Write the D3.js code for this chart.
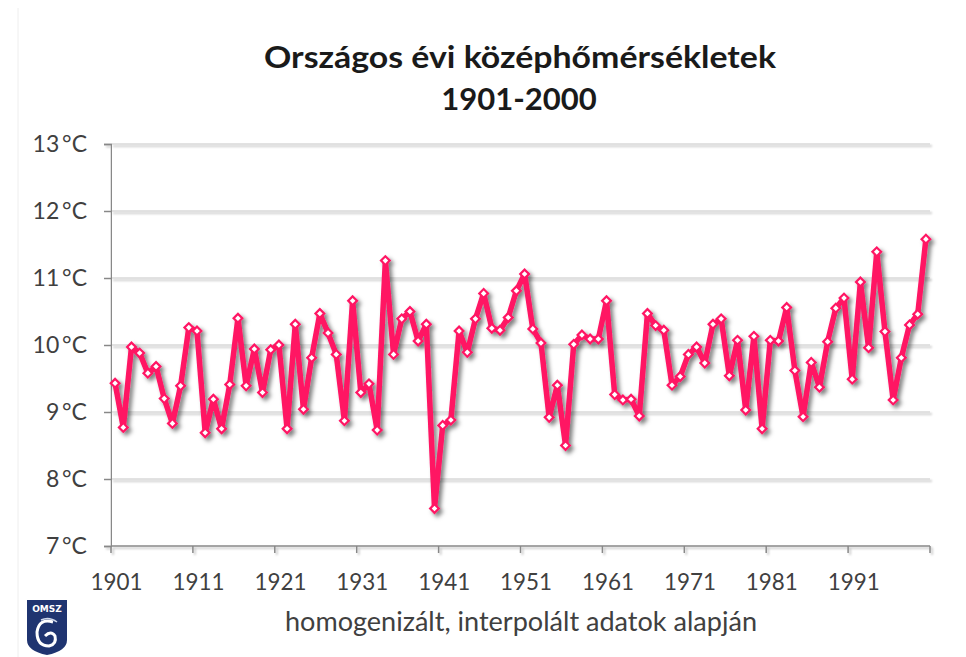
<!DOCTYPE html>
<html><head><meta charset="utf-8">
<script src="https://cdn.jsdelivr.net/npm/d3@7"></script>
<style>body{margin:0;background:#fff}svg{display:block}</style>
</head><body><svg id="c" width="966" height="657"></svg>
<script>
const years = d3.range(1901, 2001);
const temps = [9.43,8.77,9.97,9.88,9.58,9.68,9.20,8.83,9.39,10.26,
10.21,8.69,9.19,8.75,9.41,10.40,9.39,9.94,9.29,9.93,
10.00,8.75,10.31,9.04,9.81,10.47,10.18,9.86,8.87,10.66,
9.29,9.42,8.73,11.26,9.86,10.39,10.50,10.06,10.31,7.56,
8.80,8.88,10.21,9.89,10.39,10.77,10.25,10.22,10.41,10.81,
11.06,10.24,10.03,8.92,9.40,8.50,10.01,10.15,10.09,10.09,
10.66,9.26,9.18,9.19,8.94,10.47,10.29,10.22,9.40,9.53,
9.86,9.97,9.73,10.31,10.39,9.54,10.07,9.03,10.13,8.75,
10.07,10.06,10.56,9.62,8.93,9.74,9.37,10.05,10.55,10.70,
9.49,10.94,9.96,11.39,10.20,9.18,9.81,10.30,10.46,11.58];
const yTicks = [7,8,9,10,11,12,13];
const xTickLabels = [1901,1911,1921,1931,1941,1951,1961,1971,1981,1991];
const titleLines = ["Országos évi középhőmérsékletek","1901-2000"];
const subtitle = "homogenizált, interpolált adatok alapján";

const svg = d3.select("#c");
const defs = svg.append("defs");
const f = defs.append("filter").attr("id","sh").attr("x","-10%").attr("y","-10%").attr("width","130%").attr("height","130%");
f.append("feDropShadow").attr("dx",3).attr("dy",3).attr("stdDeviation",2.2).attr("flood-color","#000").attr("flood-opacity",0.5);
const f2 = defs.append("filter").attr("id","sh2").attr("x","-5%").attr("y","-50%").attr("width","110%").attr("height","300%");
f2.append("feDropShadow").attr("dx",2).attr("dy",2).attr("stdDeviation",1.2).attr("flood-color","#000").attr("flood-opacity",0.25);

const L=111, R=930, T=144, B=546;
const x = d3.scaleBand().domain(years).range([L,R]).paddingInner(0).paddingOuter(0);
const y = d3.scaleLinear().domain([7,13]).range([B,T]);
const font = "Lato, 'Open Sans', sans-serif";

// faint left border
svg.append("line").attr("x1",18).attr("x2",18).attr("y1",8).attr("y2",657).attr("stroke","#eeeeee").attr("stroke-width",1);

// title
svg.append("text").attr("x",520).attr("y",68).attr("text-anchor","middle")
  .attr("font-family",font).attr("font-weight","bold").attr("font-size",31).attr("fill","#1a1a1a")
  .attr("textLength",512).attr("lengthAdjust","spacingAndGlyphs").text(titleLines[0]);
svg.append("text").attr("x",519).attr("y",110).attr("text-anchor","middle")
  .attr("font-family",font).attr("font-weight","bold").attr("font-size",31).attr("fill","#1a1a1a").text(titleLines[1]);

// gridlines
svg.append("g").attr("filter","url(#sh2)").selectAll("line").data(yTicks.filter(d=>d>7)).join("line")
  .attr("x1",L).attr("x2",R).attr("y1",d=>y(d)).attr("y2",d=>y(d))
  .attr("stroke","#d9d9d9").attr("stroke-width",1.5);

// y axis
const yAxis = d3.axisLeft(y).tickValues(yTicks).tickSize(7).tickPadding(17).tickFormat(d=>d+"\u2009°C");
const gy = svg.append("g").attr("transform",`translate(${L},0)`).call(yAxis);
gy.select(".domain").attr("stroke","#888").attr("stroke-width",1.5).attr("filter","url(#sh2)");
gy.selectAll(".tick line").attr("stroke","#888").attr("stroke-width",1.5);
gy.selectAll(".tick text").attr("font-family",font).attr("font-size",23).attr("fill","#404040");

// x axis: ticks at category boundaries every 10 years
const boundaries = d3.range(0,101,10);
const gx = svg.append("g").attr("filter","url(#sh2)");
gx.append("line").attr("x1",L).attr("x2",R).attr("y1",B).attr("y2",B).attr("stroke","#888").attr("stroke-width",1.5);
gx.selectAll("line.t").data(boundaries).join("line").attr("class","t")
  .attr("x1",i=>L+x.step()*i).attr("x2",i=>L+x.step()*i).attr("y1",B).attr("y2",B+7)
  .attr("stroke","#888").attr("stroke-width",1.5);
svg.append("g").selectAll("text").data(xTickLabels).join("text")
  .attr("x",d=>x(d)+x.bandwidth()/2+1.5).attr("y",590).attr("text-anchor","middle")
  .attr("font-family",font).attr("font-size",24).attr("fill","#404040")
  .attr("textLength",52).attr("lengthAdjust","spacingAndGlyphs").text(d=>d);

// line
const data = years.map((yr,i)=>({yr, v:temps[i]}));
const line = d3.line().x(d=>x(d.yr)+x.bandwidth()/2).y(d=>y(d.v));
const g = svg.append("g").attr("filter","url(#sh)");
g.append("path").datum(data).attr("d",line).attr("fill","none").attr("stroke","#ff1464").attr("stroke-width",5.5).attr("stroke-linejoin","round");
g.selectAll("path.m").data(data).join("path").attr("class","m")
  .attr("d",d3.symbol().type(d3.symbolSquare).size(38))
  .attr("transform",d=>`translate(${x(d.yr)+x.bandwidth()/2},${y(d.v)}) rotate(45)`)
  .attr("fill","#fff").attr("stroke","#ff1464").attr("stroke-width",2.2);

// subtitle
svg.append("text").attr("x",521).attr("y",631).attr("text-anchor","middle")
  .attr("font-family",font).attr("font-size",26).attr("fill","#404040")
  .attr("textLength",472).attr("lengthAdjust","spacingAndGlyphs").text(subtitle);

// logo
const lg = svg.append("g").attr("transform","translate(27,600)");
lg.append("path").attr("d","M0,0 L40,0 L40,40 Q40,51 20,55 Q0,51 0,40 Z").attr("fill","#1f3470");
lg.append("text").attr("x",20).attr("y",12).attr("text-anchor","middle").attr("font-family","'DejaVu Sans'").attr("font-weight","bold").attr("font-size",9).attr("fill","#fff").text("OMSZ");
lg.append("path").attr("d","M26,22 Q12,18 10,32 Q10,46 22,46 Q30,44 28,36 Q24,30 18,36").attr("fill","none").attr("stroke","#fff").attr("stroke-width",3);
lg.append("path").attr("d","M14,20 Q22,16 30,22").attr("fill","none").attr("stroke","#cfd8ea").attr("stroke-width",1.5);
</script></body></html>
